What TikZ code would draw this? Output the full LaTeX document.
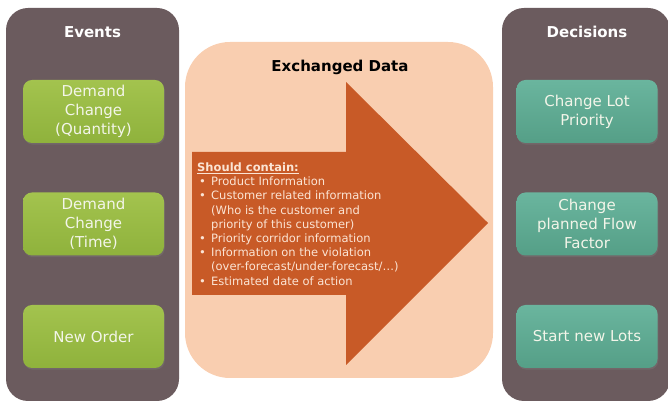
\documentclass[tikz,border=0pt]{standalone}
\usepackage{fontspec}
\setmainfont{DejaVu Sans}
\usetikzlibrary{shadows}
\definecolor{colfill}{HTML}{6B5B5E}
\definecolor{greentop}{HTML}{A3C34E}
\definecolor{greenbot}{HTML}{8FB23C}
\definecolor{tealtop}{HTML}{6AB59E}
\definecolor{tealbot}{HTML}{559F87}
\definecolor{peach}{HTML}{F9CEB0}
\definecolor{arrowfill}{HTML}{C85A27}
\definecolor{arrowtext}{HTML}{FBE4D4}
\definecolor{boxtext}{HTML}{F3F5E9}
\tikzset{
  x=1pt, y=1pt,
  column/.style={fill=colfill, rounded corners=22pt, inner sep=0pt},
  heading/.style={font=\fontsize{15}{18}\selectfont\bfseries},
  itembox/.style={rounded corners=9pt, minimum width=141pt, minimum height=63pt,
    inner sep=0pt, align=center, text=boxtext,
    font=\fontsize{15}{19}\selectfont,
    drop shadow={shadow xshift=0.8pt, shadow yshift=-1.6pt, opacity=0.35}},
  eventbox/.style={itembox, top color=greentop, bottom color=greenbot},
  decisionbox/.style={itembox, top color=tealtop, bottom color=tealbot},
}
\begin{document}
\begin{tikzpicture}
\useasboundingbox (0,0) rectangle (668,403);
\clip (0,0) rectangle (668,403);

% side columns
\node[column, minimum width=173pt, minimum height=393pt] (events) at (92.5,198.5) {};
\node[column, minimum width=168pt, minimum height=393pt] (decisions) at (586,198.5) {};
\node[heading, text=white] (eventstitle) at (92.5,371) {Events};
\node[heading, text=white] (decisionstitle) at (587,371) {Decisions};

% event boxes
\node[eventbox] (ev1) at (93.5,291.5) {Demand\\Change\\(Quantity)};
\node[eventbox] (ev2) at (93.5,179) {Demand\\Change\\(Time)};
\node[eventbox] (ev3) at (93.5,66.5) {New Order};

% decision boxes
\node[decisionbox] (dc1) at (587,291.5) {Change Lot\\Priority};
\node[decisionbox] (dc2) at (587,179) {Change\\planned Flow\\Factor};
\node[decisionbox] (dc3) at (587,66.5) {Start new Lots};

% exchanged data panel
\node[fill=peach, rounded corners=45pt, minimum width=308pt, minimum height=336pt, inner sep=0pt] (panel) at (339,193) {};
\node[heading, text=black] (paneltitle) at (340,336) {Exchanged Data};

% big arrow
\fill[arrowfill] (192,251) -- (346,251) -- (346,321) -- (488,180)
  -- (346,38) -- (346,108) -- (192,108) -- cycle;

\node[anchor=north west, inner sep=0pt, align=left, text=arrowtext,
      font=\fontsize{11.5}{14.2}\selectfont] (contents) at (197,240.5)
{\textbf{\underline{Should contain:}}\\
 \makebox[14pt][l]{\,•}Product Information\\
 \makebox[14pt][l]{\,•}Customer related information\\
 \hspace*{14pt}(Who is the customer and\\
 \hspace*{14pt}priority of this customer)\\
 \makebox[14pt][l]{\,•}Priority corridor information\\
 \makebox[14pt][l]{\,•}Information on the violation\\
 \hspace*{14pt}(over-forecast/under-forecast/…)\\
 \makebox[14pt][l]{\,•}Estimated date of action};
\end{tikzpicture}
\end{document}
